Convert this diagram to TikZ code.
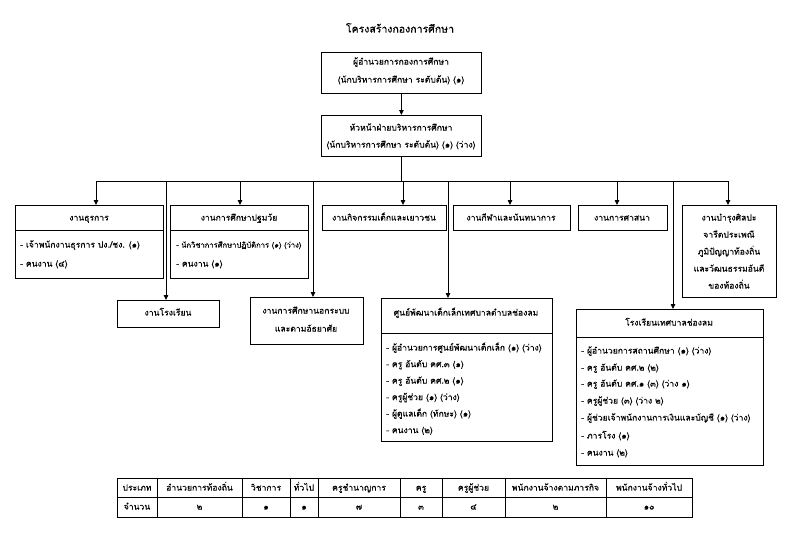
\documentclass[tikz,border=0pt]{standalone}
\usepackage{fontspec}
\setmainfont[Script=Thai, FakeBold=0.2]{Loma}
\usetikzlibrary{arrows.meta}
\tikzset{
  bx/.style={draw, line width=0.8pt, anchor=north west, inner sep=0pt},
  arr/.style={line width=0.8pt, -{Triangle[length=5pt,width=4.5pt]}},
  ln/.style={line width=0.8pt},
  txt/.style={font=\fontsize{8.6}{10}\selectfont, inner sep=0pt, anchor=mid},
  item/.style={txt, anchor=mid west},
  small/.style={font=\fontsize{7.6}{9}\selectfont},
}
\begin{document}
\begin{tikzpicture}[x=1pt,y=-1pt]
\useasboundingbox[fill=white] (0,0) rectangle (801,552);
% title
\node[txt, font=\fontsize{10.5}{12}\selectfont] (title) at (400,30) {โครงสร้างกองการศึกษา};
% top boxes
\node[bx, minimum width=160pt, minimum height=41pt] (b1) at (321,52) {};
\node[txt] (b1a) at (401,62) {ผู้อำนวยการกองการศึกษา};
\node[txt] (b1b) at (401,80) {(นักบริหารการศึกษา ระดับต้น) (๑)};
\node[bx, minimum width=160pt, minimum height=41pt] (b2) at (321,115) {};
\node[txt] (b2a) at (401,128) {หัวหน้าฝ่ายบริหารการศึกษา};
\node[txt] (b2b) at (401,145) {(นักบริหารการศึกษา ระดับต้น) (๑) (ว่าง)};
\draw[arr] (b1.south) -- (b2.north);
% bus
\coordinate (c1) at (96,181);
\coordinate (c2) at (166,181);
\coordinate (c3) at (240,181);
\coordinate (c4) at (313,181);
\coordinate (c5) at (403,181);
\coordinate (c6) at (448,181);
\coordinate (c7) at (510,181);
\coordinate (c8) at (617,181);
\coordinate (c9) at (673,181);
\coordinate (c10) at (728,181);
\draw[ln] (b2.south) -- (b2.south |- c1);
\draw[ln] (c1) -- (c10);
% row 1 boxes
\node[bx, minimum width=148pt, minimum height=73pt] (thu) at (15,205) {};
\draw[ln] (thu.west |- 0,230) -- (thu.east |- 0,230);
\node[txt] (thuh) at (89,218) {งานธุรการ};
\node[item] (thu1) at (20,245) {- เจ้าพนักงานธุรการ ปง./ชง. (๑)};
\node[item] (thu2) at (20,264) {- คนงาน (๔)};

\node[bx, minimum width=138pt, minimum height=73pt] (pat) at (170,205) {};
\draw[ln] (pat.west |- 0,230) -- (pat.east |- 0,230);
\node[txt] (path) at (239,218) {งานการศึกษาปฐมวัย};
\node[item, small] (pat1) at (176,245) {- นักวิชาการศึกษาปฏิบัติการ (๑) (ว่าง)};
\node[item] (pat2) at (176,264) {- คนงาน (๑)};

\node[bx, minimum width=124pt, minimum height=25pt] (kit) at (322,205) {};
\node[txt] (kitt) at (384,218) {งานกิจกรรมเด็กและเยาวชน};
\node[bx, minimum width=117pt, minimum height=25pt] (kee) at (453,205) {};
\node[txt] (keet) at (511,218) {งานกีฬาและนันทนาการ};
\node[bx, minimum width=89pt, minimum height=25pt] (sas) at (578,205) {};
\node[txt] (sast) at (622,218) {งานการศาสนา};
\node[bx, minimum width=94pt, minimum height=92pt] (bam) at (682,205) {};
\node[txt] (bam1) at (729,218) {งานบำรุงศิลปะ};
\node[txt] (bam2) at (729,235) {จารีตประเพณี};
\node[txt] (bam3) at (729,252) {ภูมิปัญญาท้องถิ่น};
\node[txt] (bam4) at (729,269) {และวัฒนธรรมอันดี};
\node[txt] (bam5) at (729,286) {ของท้องถิ่น};
% row 1 arrows
\draw[arr] (c1) -- (c1 |- thu.north);
\draw[arr] (c3) -- (c3 |- pat.north);
\draw[arr] (c5) -- (c5 |- kit.north);
\draw[arr] (c7) -- (c7 |- kee.north);
\draw[arr] (c8) -- (c8 |- sas.north);
\draw[arr] (c10) -- (c10 |- bam.north);
% row 2 boxes
\node[bx, minimum width=102pt, minimum height=27pt] (rr) at (117,300) {};
\node[txt] (rrt) at (168,313) {งานโรงเรียน};
\node[bx, minimum width=113pt, minimum height=47pt] (nok) at (250,297) {};
\node[txt] (nok1) at (306,311) {งานการศึกษานอกระบบ};
\node[txt] (nok2) at (306,329) {และตามอัธยาศัย};
\node[bx, minimum width=171pt, minimum height=143pt] (sun) at (381,298) {};
\draw[ln] (sun.west |- 0,333) -- (sun.east |- 0,333);
\node[txt] (sunh) at (466,313) {ศูนย์พัฒนาเด็กเล็กเทศบาลตำบลช่องลม};
\node[item] (sun1) at (386,348) {- ผู้อำนวยการศูนย์พัฒนาเด็กเล็ก (๑) (ว่าง)};
\node[item] (sun2) at (386,364.5) {- ครู อันดับ คศ.๓ (๑)};
\node[item] (sun3) at (386,381) {- ครู อันดับ คศ.๒ (๑)};
\node[item] (sun4) at (386,397.5) {- ครูผู้ช่วย (๑) (ว่าง)};
\node[item] (sun5) at (386,414) {- ผู้ดูแลเด็ก (ทักษะ) (๑)};
\node[item] (sun6) at (386,430.5) {- คนงาน (๒)};
\node[bx, minimum width=187pt, minimum height=156pt] (sch) at (576,309) {};
\draw[ln] (sch.west |- 0,337) -- (sch.east |- 0,337);
\node[txt] (schh) at (669,323) {โรงเรียนเทศบาลช่องลม};
\node[item] (sch1) at (581,351) {- ผู้อำนวยการสถานศึกษา (๑) (ว่าง)};
\node[item] (sch2) at (581,368) {- ครู อันดับ คศ.๒ (๒)};
\node[item] (sch3) at (581,384) {- ครู อันดับ คศ.๑ (๓) (ว่าง ๑)};
\node[item] (sch4) at (581,401) {- ครูผู้ช่วย (๓) (ว่าง ๒)};
\node[item] (sch5) at (581,418) {- ผู้ช่วยเจ้าพนักงานการเงินและบัญชี (๑) (ว่าง)};
\node[item] (sch6) at (581,436) {- ภารโรง (๑)};
\node[item] (sch7) at (581,453) {- คนงาน (๒)};
% row 2 connectors
\draw[arr] (c2) -- (c2 |- rr.north);
\draw[arr] (c4) -- (c4 |- nok.north);
\draw[arr] (c6) -- (c6 |- sun.north);
\draw[arr] (c9) -- (c9 |- sch.north);
% table
\draw[ln] (117,478) rectangle (692,517);
\draw[ln] (117,497.5) -- (692,497.5);
\foreach \x in {157,242,290,318,400,442,505,606} \draw[ln] (\x,478) -- (\x,517);
\node[txt] (h1) at (137,488) {ประเภท};
\node[txt] (h2) at (199.5,488) {อำนวยการท้องถิ่น};
\node[txt] (h3) at (266,488) {วิชาการ};
\node[txt] (h4) at (304,488) {ทั่วไป};
\node[txt] (h5) at (359,488) {ครูชำนาญการ};
\node[txt] (h6) at (421,488) {ครู};
\node[txt] (h7) at (473.5,488) {ครูผู้ช่วย};
\node[txt] (h8) at (555.5,488) {พนักงานจ้างตามภารกิจ};
\node[txt] (h9) at (649,488) {พนักงานจ้างทั่วไป};
\node[txt] (v1) at (137,507) {จำนวน};
\node[txt] (v2) at (199.5,507) {๒};
\node[txt] (v3) at (266,507) {๑};
\node[txt] (v4) at (304,507) {๑};
\node[txt] (v5) at (359,507) {๗};
\node[txt] (v6) at (421,507) {๓};
\node[txt] (v7) at (473.5,507) {๔};
\node[txt] (v8) at (555.5,507) {๒};
\node[txt] (v9) at (649,507) {๑๐};
\end{tikzpicture}
\end{document}
